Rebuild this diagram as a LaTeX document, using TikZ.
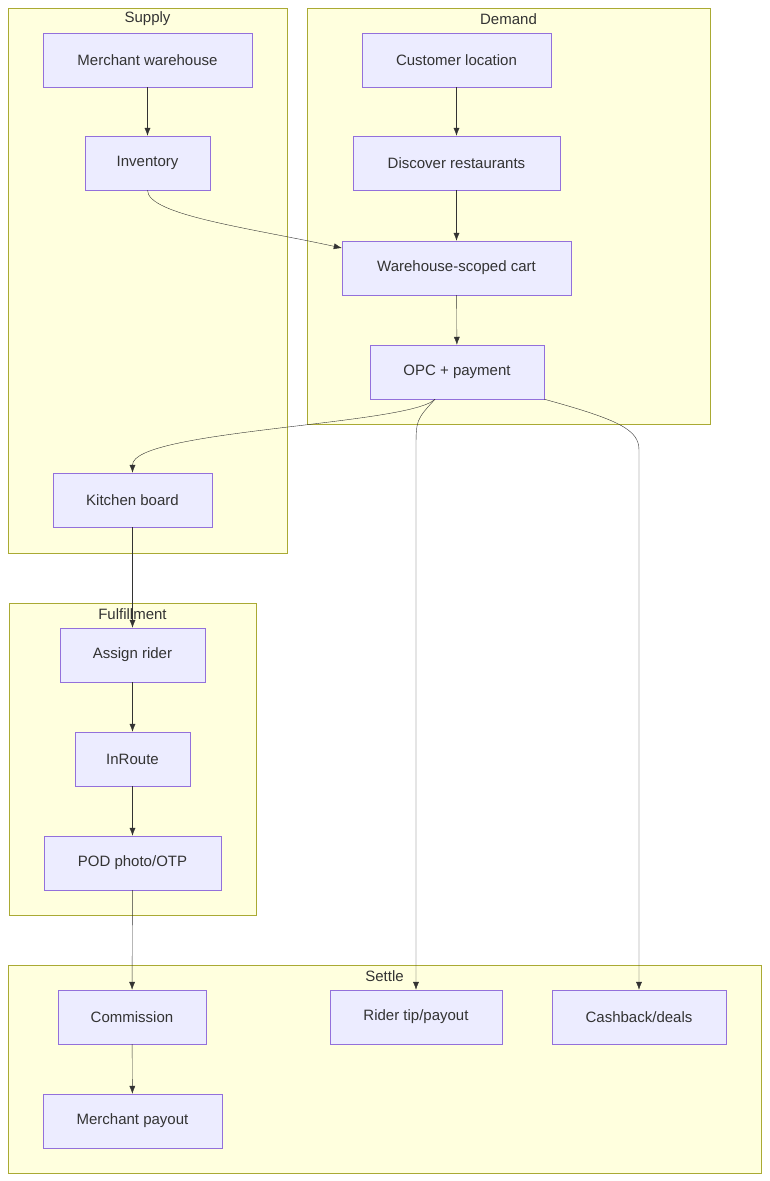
\documentclass[tikz,border=0pt]{standalone}
\usepackage{fontspec}
\setmainfont{Liberation Sans}
\usetikzlibrary{positioning, arrows.meta}
\definecolor{boxfill}{HTML}{ECECFF}
\definecolor{boxline}{HTML}{9370DB}
\definecolor{grpfill}{HTML}{FFFFDE}
\definecolor{grpline}{HTML}{AAAA33}
\definecolor{ink}{HTML}{333333}
\tikzset{
  step box/.style={draw=boxline, fill=boxfill, minimum height=54pt, inner sep=0pt, text=ink, font=\fontsize{15}{18}\selectfont},
  group/.style={draw=grpline, fill=grpfill},
  group label/.style={text=ink, font=\fontsize{15}{18}\selectfont, anchor=center},
  flow/.style={draw=ink, -{Latex[length=8pt,width=6pt]}}
}
\begin{document}
\begin{tikzpicture}[x=1pt, y=-1pt]
\useasboundingbox (0,0) rectangle (769,1181);
% clusters
\draw[group] (8,8) rectangle (287,553);
\draw[group] (307,8) rectangle (710,424);
\draw[group] (9,603) rectangle (256,915);
\draw[group] (8,965) rectangle (761,1173);
\node[group label] (supply) at (147.5,19) {Supply};
\node[group label] (demand) at (508.5,19) {Demand};
\node[group label] (fulfil) at (132.5,614) {Fulfillment};
\node[group label] (settle) at (384.5,976) {Settle};
% supply
\node[step box, minimum width=209pt] (warehouse) at (147.5,60) {Merchant warehouse};
\node[step box, minimum width=125pt] (inventory) at (147.5,163) {Inventory};
\node[step box, minimum width=159pt] (kitchen) at (132.5,500) {Kitchen board};
% demand
\node[step box, minimum width=189pt] (customer) at (456.5,60) {Customer location};
\node[step box, minimum width=207pt] (discover) at (456.5,163) {Discover restaurants};
\node[step box, minimum width=229pt] (cart) at (456.5,268) {Warehouse-scoped cart};
\node[step box, minimum width=174pt] (opc) at (457,372) {OPC + payment};
% fulfillment
\node[step box, minimum width=145pt] (assign) at (132.5,655) {Assign rider};
\node[step box, minimum width=115pt] (inroute) at (132.5,759) {InRoute};
\node[step box, minimum width=177pt] (pod) at (132.5,863) {POD photo/OTP};
% settle
\node[step box, minimum width=148pt] (commission) at (132,1017) {Commission};
\node[step box, minimum width=179pt] (payout) at (132.5,1121) {Merchant payout};
\node[step box, minimum width=172pt] (tip) at (416,1017) {Rider tip/payout};
\node[step box, minimum width=174pt] (cashback) at (639,1017) {Cashback/deals};
% edges
\draw[flow] (warehouse) -- (inventory);
\draw[flow] (customer) -- (discover);
\draw[flow] (discover) -- (cart);
\draw[flow] (cart) -- (opc);
\draw[flow] (inventory.south) .. controls (147.5,215) and (250,228) .. (cart.west |- 0,248);
\draw[flow] (opc.south -| 435,0) .. controls (410,425) and (132.5,430) .. (kitchen.north);
\draw[flow] (opc.south -| 435,0) .. controls (416,420) .. (416,450) -- (tip.north);
\draw[flow] (opc.south east) .. controls (620,420) and (639,430) .. (639,450) -- (cashback.north);
\draw[flow] (kitchen) -- (assign);
\draw[flow] (assign) -- (inroute);
\draw[flow] (inroute) -- (pod);
\draw[flow] (pod) -- (commission);
\draw[flow] (commission) -- (payout);
\end{tikzpicture}
\end{document}
